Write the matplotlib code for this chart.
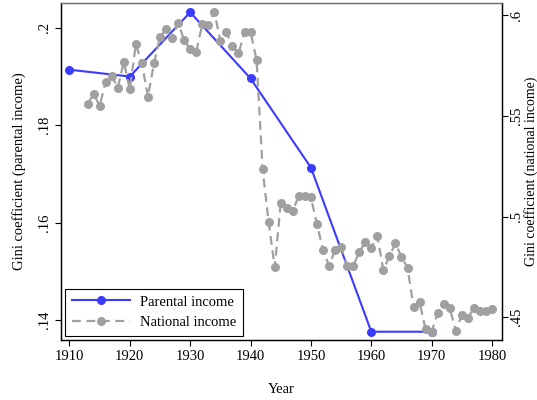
import numpy as np
import matplotlib.pyplot as plt
from matplotlib.ticker import FuncFormatter

plt.rcParams['font.family'] = ['Liberation Serif', 'DejaVu Serif']

# parental income Gini (left axis), by decade
par_years = [1910, 1920, 1930, 1940, 1950, 1960, 1970]
par_gini = [0.1914, 0.1900, 0.2032, 0.1896, 0.1713, 0.1376, 0.1376]

# national income Gini (right axis), annual
nat_years = list(range(1913, 1981))
nat_gini = [0.5558, 0.5608, 0.5550, 0.5669, 0.5699, 0.5639, 0.5767, 0.5631,
            0.5856, 0.5760, 0.5595, 0.5760, 0.5892, 0.5931, 0.5884, 0.5962,
            0.5876, 0.5830, 0.5818, 0.5955, 0.5949, 0.6016, 0.5872, 0.5914,
            0.5848, 0.5810, 0.5914, 0.5917, 0.5775, 0.5234, 0.4971, 0.4748,
            0.5066, 0.5041, 0.5029, 0.5103, 0.5103, 0.5095, 0.4961, 0.4834,
            0.4756, 0.4834, 0.4847, 0.4756, 0.4756, 0.4822, 0.4872, 0.4845,
            0.4903, 0.4734, 0.4804, 0.4867, 0.4800, 0.4746, 0.4552, 0.4574,
            0.4440, 0.4428, 0.4523, 0.4566, 0.4544, 0.4433, 0.4511, 0.4497,
            0.4544, 0.4532, 0.4532, 0.4541]

blue = '#3b3bff'
grey = '#a0a0a0'


def nozero(v, pos):
    s = ('%g' % v)
    return s.replace('0.', '.', 1) if s.startswith('0.') else s


fig = plt.figure(figsize=(5.37, 4.0), dpi=100)
ax = fig.add_axes([0.1136, 0.15, 0.8212, 0.8425])
ax2 = ax.twinx()

l1, = ax.plot(par_years, par_gini, color=blue, lw=1.5, marker='o', ms=6.5,
              markeredgewidth=0, label='Parental income')
l2, = ax2.plot(nat_years, nat_gini, color=grey, lw=1.6, ls=(0, (4, 2.5)),
               marker='o', ms=6.5, markeredgewidth=0, label='National income')

ax.set_xlim(1908.6, 1981.65)
ax.set_ylim(0.1359, 0.2051)
ax2.set_ylim(0.4387, 0.606)

ax.set_xticks(range(1910, 1981, 10))
ax.set_yticks([0.14, 0.16, 0.18, 0.2])
ax2.set_yticks([0.45, 0.5, 0.55, 0.6])
ax.yaxis.set_major_formatter(FuncFormatter(nozero))
ax2.yaxis.set_major_formatter(FuncFormatter(nozero))

ax.tick_params(axis='both', labelsize=10.5, length=4, width=0.8)
ax2.tick_params(axis='y', labelsize=10.5, length=4, width=0.8, pad=2)
for t in ax.get_yticklabels():
    t.set_rotation(90)
    t.set_va('center')
for t in ax2.get_yticklabels():
    t.set_rotation(90)
    t.set_va('center')

ax.set_xlabel('Year', fontsize=10.5, labelpad=14)
ax.set_ylabel('Gini coefficient (parental income)', fontsize=10.5, labelpad=8)
ax2.set_ylabel('Gini coefficient (national income)', fontsize=10,
               rotation=90, labelpad=0.5)

for a in (ax, ax2):
    for s in a.spines.values():
        s.set_linewidth(0.9)
    a.spines['top'].set_color('#707070')

leg = ax2.legend(handles=[l1, l2], loc='lower left', fontsize=10.5,
                 fancybox=False, edgecolor='black', framealpha=1,
                 borderaxespad=0.3, handlelength=4.0, borderpad=0.45,
                 labelspacing=0.5, handletextpad=0.7)
leg.get_frame().set_linewidth(0.8)

fig.savefig('out.png', dpi=100)
